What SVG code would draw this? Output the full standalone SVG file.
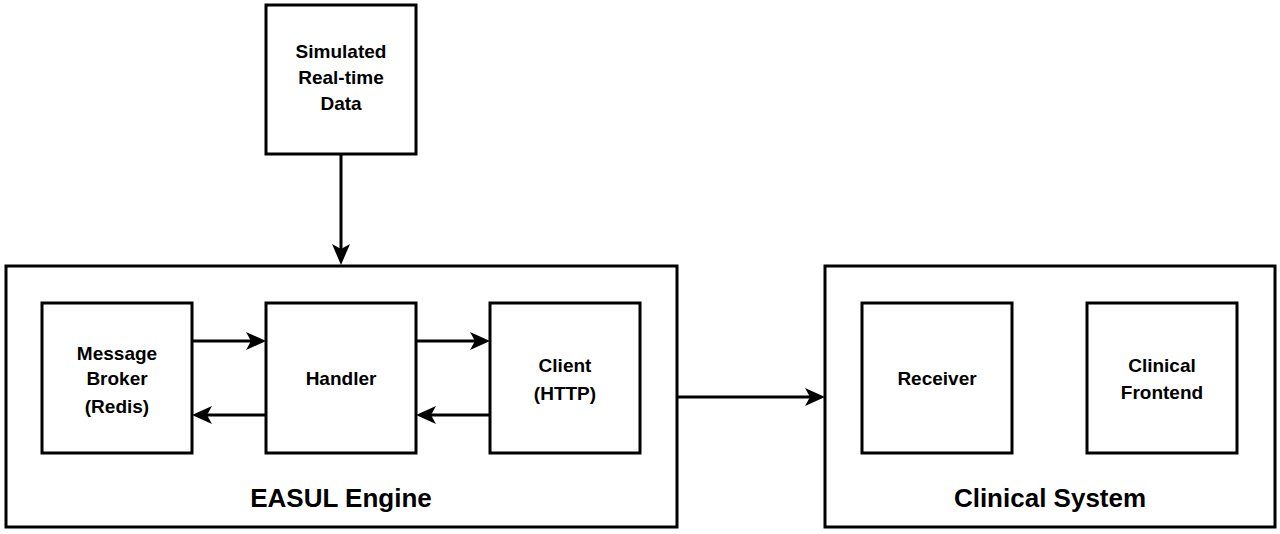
<svg xmlns="http://www.w3.org/2000/svg" width="1280" height="534" viewBox="0 0 1280 534">
<style>
rect{fill:#fff;stroke:#000;stroke-width:3}
text{font-family:"Liberation Sans",Arial,sans-serif;font-weight:bold;text-anchor:middle;fill:#000}
.n{font-size:19px}
.g{font-size:26px}
.c{stroke:#000;stroke-width:3;fill:none}
</style>
<defs>
<marker id="a" viewBox="0 0 10 10" refX="9" refY="5" markerWidth="6" markerHeight="6" markerUnits="userSpaceOnUse" orient="auto" style="overflow:visible">
<path d="M0,0 L10,5 L0,10 L3,5 Z" fill="#000" transform="scale(1.9) translate(-4.7,-2.4)"/>
</marker>
</defs>
<g id="easul"><rect x="6" y="266" width="671" height="261"/><text class="g" x="341" y="507">EASUL Engine</text></g>
<g id="clinical"><rect x="825" y="266" width="450" height="261"/><text class="g" x="1050" y="507">Clinical System</text></g>
<g id="sim"><rect x="266" y="5" width="150" height="149"/><text class="n" x="341" y="58">Simulated</text><text class="n" x="341" y="84">Real-time</text><text class="n" x="341" y="110">Data</text></g>
<g id="broker"><rect x="42" y="303" width="150" height="150"/><text class="n" x="117" y="360">Message</text><text class="n" x="117" y="385">Broker</text><text class="n" x="117" y="413">(Redis)</text></g>
<g id="handler"><rect x="266" y="303" width="150" height="150"/><text class="n" x="341" y="385">Handler</text></g>
<g id="client"><rect x="490" y="303" width="150" height="150"/><text class="n" x="565" y="372">Client</text><text class="n" x="565" y="400">(HTTP)</text></g>
<g id="receiver"><rect x="862" y="303" width="150" height="150"/><text class="n" x="937" y="385">Receiver</text></g>
<g id="frontend"><rect x="1087" y="303" width="150" height="150"/><text class="n" x="1162" y="372">Clinical</text><text class="n" x="1162" y="399">Frontend</text></g>
<g id="connectors">
<path d="M0,0 L20,7 L0,14 Z" style="display:none"/>
<line class="c" x1="341" y1="154" x2="341" y2="250"/><path d="M332,244 L341,265 L350,244 L341,249 Z"/>
<line class="c" x1="192" y1="341" x2="252" y2="341"/><path d="M246,332 L266,341 L246,350 L251,341 Z"/>
<line class="c" x1="266" y1="415" x2="206" y2="415"/><path d="M212,406 L192,415 L212,424 L207,415 Z"/>
<line class="c" x1="416" y1="341" x2="476" y2="341"/><path d="M470,332 L490,341 L470,350 L475,341 Z"/>
<line class="c" x1="490" y1="415" x2="430" y2="415"/><path d="M436,406 L416,415 L436,424 L431,415 Z"/>
<line class="c" x1="677" y1="397" x2="811" y2="397"/><path d="M805,388 L825,397 L805,406 L810,397 Z"/>
</g>
</svg>
